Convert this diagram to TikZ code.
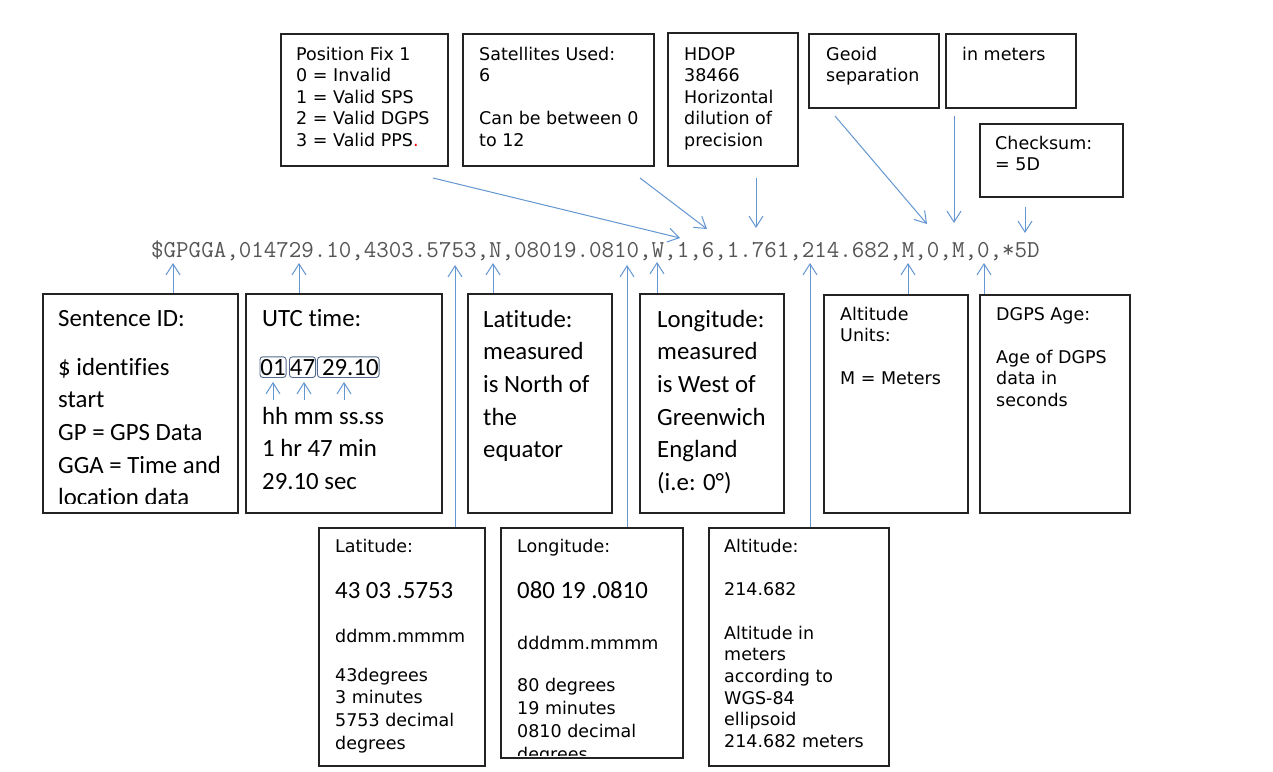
\documentclass[tikz,border=0pt]{standalone}
\usepackage{fontspec}
\usetikzlibrary{arrows.meta,calc}
\newfontfamily\verd{DejaVu Sans}
\newfontfamily\cali[Ligatures=NoCommon]{Carlito}
\definecolor{arrowblue}{RGB}{100,150,210}
\definecolor{boxline}{RGB}{35,35,35}
\definecolor{codegray}{RGB}{85,85,85}
\definecolor{smallbox}{RGB}{80,105,140}
\newcommand\tl[1]{\begin{tabular}[t]{@{}l@{}}#1\end{tabular}}
\begin{document}
\begin{tikzpicture}[x=1pt,y=-1pt,
  box/.style={draw=boxline, line width=1.5pt, anchor=north west, inner sep=0pt},
  vt/.style={anchor=base west, inner sep=0pt, font=\verd\fontsize{17.5}{21.5}\selectfont},
  vtb/.style={anchor=base west, inner sep=0pt, font=\verd\fontsize{17.5}{#1}\selectfont},
  ct/.style={anchor=base west, inner sep=0pt, font=\cali\fontsize{24.8}{32.7}\selectfont},
  code/.style={anchor=base west, inner sep=0pt, font=\ttfamily\fontsize{24.3}{28}\selectfont, text=codegray},
  tbox/.style={draw=smallbox, line width=0.9pt, rounded corners=3pt, anchor=base west,
    font=\cali\fontsize{24.8}{32.7}\selectfont, inner xsep=0.5pt, inner ysep=2.5pt,
    text height=15.7pt, text depth=0pt},
  arr/.style={draw=arrowblue, line width=1pt, -{Straight Barb[length=11pt,width=14pt]}}]
\fill[white] (0,0) rectangle (1273,771);
\useasboundingbox (0,0) rectangle (1273,771);

% ---------- top boxes ----------
\node[box, minimum width=167pt, minimum height=132pt] (pf) at (280,33) {};
\node[box, minimum width=191pt, minimum height=132pt] (sat) at (462,33) {};
\node[box, minimum width=130pt, minimum height=133pt] (hdop) at (667,32) {};
\node[box, minimum width=130pt, minimum height=74pt] (geoid) at (808,33) {};
\node[box, minimum width=130pt, minimum height=74pt] (meters) at (945,33) {};
\node[box, minimum width=143pt, minimum height=73pt] (chk) at (979,123) {};

\node[vt] (pf-t) at (296,60) {\tl{Position Fix 1\\0 = Invalid\\1 = Valid SPS\\2 = Valid DGPS\\3 = Valid PPS\textcolor{red}{.}}};
\node[vt] (sat-t) at (479,60) {\tl{Satellites Used:\\6\\ \\Can be between 0\\to 12}};
\node[vt] (hdop-t) at (684,60) {\tl{HDOP\\38466\\Horizontal\\dilution of\\precision}};
\node[vt] (geoid-t) at (826,60) {\tl{Geoid\\separation}};
\node[vt] (meters-t) at (962,60) {in meters};
\node[vt] (chk-t) at (995,149) {\tl{Checksum:\\= 5D}};

% ---------- NMEA sentence ----------
\node[code] (nmea) at (151,257) {\$GPGGA,014729.10,4303.5753,N,08019.0810,W,1,6,1.761,214.682,M,0,M,0,*5D};

% ---------- middle row boxes ----------
\node[box, minimum width=195pt, minimum height=219pt] (sid) at (42,293) {};
\node[box, minimum width=196pt, minimum height=219pt] (utc) at (245,293) {};
\node[box, minimum width=144pt, minimum height=219pt] (lat) at (467,293) {};
\node[box, minimum width=144pt, minimum height=219pt] (lon) at (639,293) {};
\node[box, minimum width=144pt, minimum height=218pt] (altu) at (823,294) {};
\node[box, minimum width=150pt, minimum height=218pt] (dgps) at (979,294) {};

\begin{scope}
  \clip (42,293) rectangle (237,503.5);
  \node[ct] (sid-t) at (58,326) {\tl{Sentence ID:\\[16.3pt]\$ identifies\\start\\GP = GPS Data\\GGA = Time and\\location data}};
\end{scope}
\node[ct] (utc-t) at (262,326) {UTC time:};
\node[tbox] (b01) at (259.5,375) {01};
\node[tbox] (b47) at (289,375) {47};
\node[tbox] (b29) at (317,375) {\,29.10};
\node[ct] (utc-b) at (262,424) {\tl{hh mm ss.ss\\1 hr 47 min\\29.10 sec}};
\node[ct] (lat-t) at (483,327) {\tl{Latitude:\\measured\\is North of\\the\\equator}};
\node[ct] (lon-t) at (657,327) {\tl{Longitude:\\measured\\is West of\\Greenwich\\England\\(i.e: 0°)}};
\node[vt] (altu-t) at (840,320) {\tl{Altitude\\Units:\\ \\M = Meters}};
\node[vt] (dgps-t) at (996,320) {\tl{DGPS Age:\\ \\Age of DGPS\\data in\\seconds}};

% ---------- bottom row boxes ----------
\node[box, minimum width=166pt, minimum height=238pt] (lat2) at (318,527) {};
\node[box, minimum width=182pt, minimum height=230pt] (lon2) at (500,527) {};
\node[box, minimum width=180pt, minimum height=238pt] (alt2) at (708,527) {};

\node[vt] (lat2-a) at (335,552) {Latitude:};
\node[ct] (lat2-b) at (335,598) {43 03 .5753};
\node[vtb=22.7] (lat2-c) at (335,642.5) {ddmm.mmmm};
\node[vtb=22.7] (lat2-d) at (335,681) {\tl{43degrees\\3 minutes\\5753 decimal\\degrees}};

\node[vt] (lon2-a) at (517,552) {Longitude:};
\node[ct] (lon2-b) at (517,598) {080 19 .0810};
\node[vtb=23] (lon2-c) at (517,649) {dddmm.mmmm};
\begin{scope}
  \clip (500,527) rectangle (682,755);
  \node[vtb=23] (lon2-d) at (517,691) {\tl{80 degrees\\19 minutes\\0810 decimal\\degrees}};
\end{scope}

\node[vt] (alt2-a) at (724,552) {Altitude:};
\node[vt] (alt2-b) at (724,595.5) {214.682};
\node[vtb=21.7] (alt2-c) at (724,639) {\tl{Altitude in\\meters\\according to\\WGS-84\\ellipsoid\\214.682 meters}};

% ---------- arrow coordinates ----------
\coordinate (pf-s) at (433,178);   \coordinate (pf-e) at (680,238);
\coordinate (sat-s) at (640,178);  \coordinate (sat-e) at (707,229);
\coordinate (hdop-s) at (756,178); \coordinate (hdop-e) at (756,228);
\coordinate (geo-s) at (835,116);  \coordinate (geo-e) at (927,224);
\coordinate (met-s) at (954,116);  \coordinate (met-e) at (954,223);
\coordinate (chk-s) at (1025,207); \coordinate (chk-e) at (1025,233);

\coordinate (t-sid) at (173,263);
\coordinate (t-utc) at (299,263);
\coordinate (t-lat2) at (455,265);
\coordinate (t-lat) at (493,263);
\coordinate (t-lon2) at (627,265);
\coordinate (t-lon) at (657,262);
\coordinate (t-alt2) at (810,263);
\coordinate (t-altu) at (908,263);
\coordinate (t-dgps) at (984,263);

\coordinate (u1) at (273,400);
\coordinate (u2) at (304,400);
\coordinate (u3) at (344,400);

% ---------- arrows ----------
\draw[arr] (pf-s) -- (pf-e);
\draw[arr] (sat-s) -- (sat-e);
\draw[arr] (hdop-s) -- (hdop-e);
\draw[arr] (geo-s) -- (geo-e);
\draw[arr] (met-s) -- (met-e);
\draw[arr] (chk-s) -- (chk-e);

\draw[arr] (sid.north -| t-sid) -- (t-sid);
\draw[arr] (utc.north -| t-utc) -- (t-utc);
\draw[arr] (lat2.north -| t-lat2) -- (t-lat2);
\draw[arr] (lat.north -| t-lat) -- (t-lat);
\draw[arr] (lon2.north -| t-lon2) -- (t-lon2);
\draw[arr] (lon.north -| t-lon) -- (t-lon);
\draw[arr] (alt2.north -| t-alt2) -- (t-alt2);
\draw[arr] (altu.north -| t-altu) -- (t-altu);
\draw[arr] (dgps.north -| t-dgps) -- (t-dgps);

\draw[arr] (u1) -- ($(b01.south -| u1)+(0,4)$);
\draw[arr] (u2) -- ($(b47.south -| u2)+(0,4)$);
\draw[arr] (u3) -- ($(b29.south -| u3)+(0,4)$);
\end{tikzpicture}
\end{document}
